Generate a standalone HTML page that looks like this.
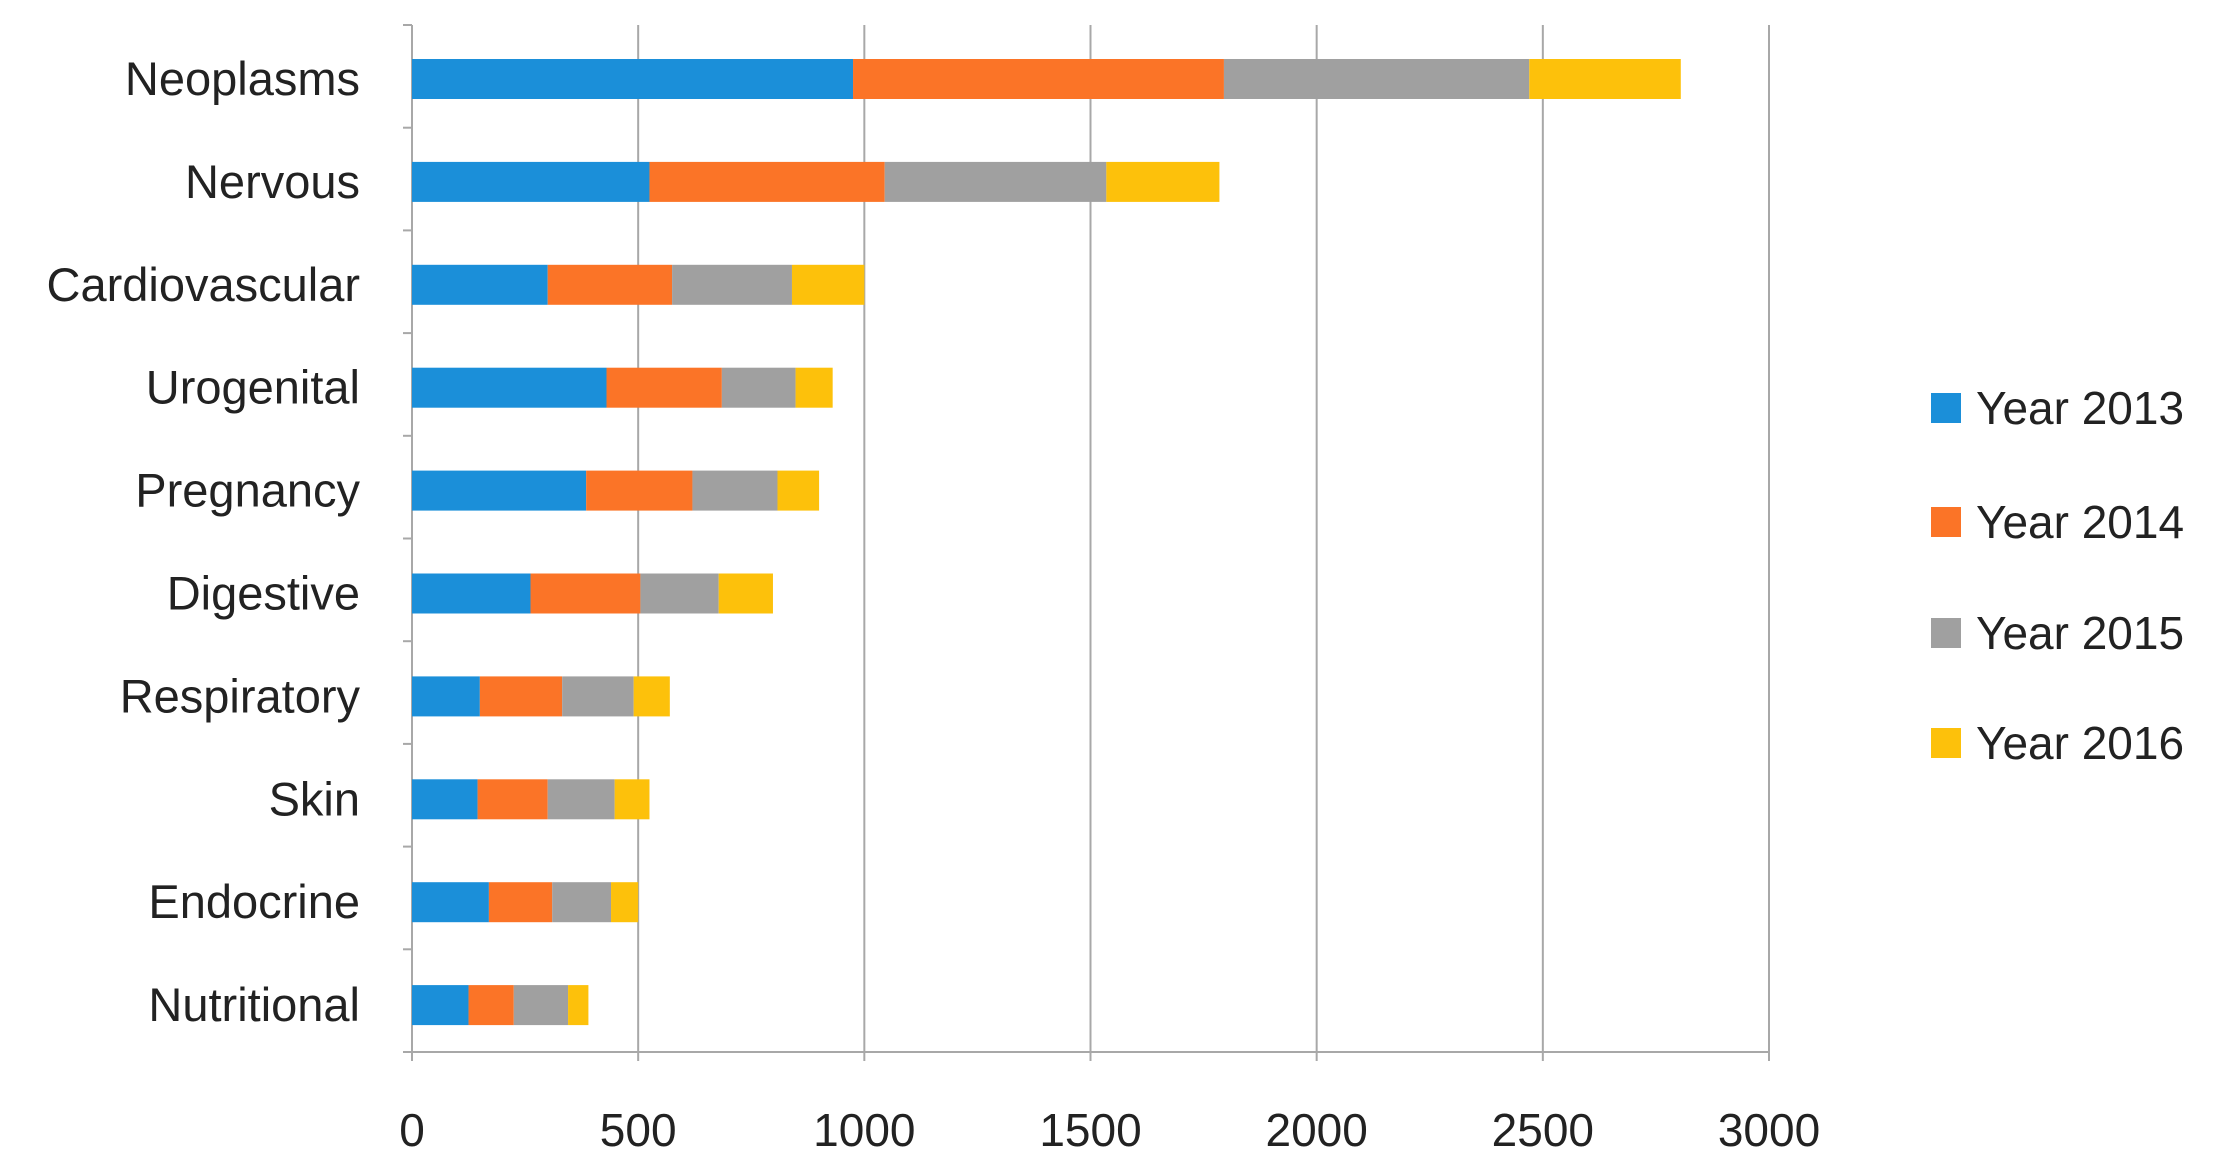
<!DOCTYPE html>
<html><head><meta charset="utf-8"><style>html,body{margin:0;padding:0;background:#fff}svg{display:block}</style></head>
<body>
<svg width="2214" height="1169" viewBox="0 0 2214 1169" xmlns="http://www.w3.org/2000/svg" font-family="Liberation Sans, sans-serif" fill="#222">
<g id="grid" stroke="#a8a8a8" stroke-width="2"></g>
<g id="bars"></g>
<g id="labels" font-size="47" text-anchor="end"></g>
<g id="ticks" font-size="46" text-anchor="middle"></g>
<g font-size="46">
<rect x="1931" y="393" width="30" height="30" fill="#1b8fd9"/><text x="1976" y="424">Year 2013</text>
<rect x="1931" y="507" width="30" height="30" fill="#fb7427"/><text x="1976" y="538">Year 2014</text>
<rect x="1931" y="618" width="30" height="30" fill="#a0a0a0"/><text x="1976" y="649">Year 2015</text>
<rect x="1931" y="728" width="30" height="30" fill="#fdc10b"/><text x="1976" y="759">Year 2016</text>
</g>
<script>
(function(){
var ns="http://www.w3.org/2000/svg";
function el(p,t,a,txt){var e=document.createElementNS(ns,t);for(var k in a)e.setAttribute(k,a[k]);if(txt)e.textContent=txt;document.getElementById(p).appendChild(e);}
var x0=412,sc=(1769-412)/3000,ptop=25,bot=1052;
for(var v=500;v<=3000;v+=500){var x=x0+v*sc;el("grid","line",{x1:x,y1:ptop,x2:x,y2:bot});}
el("grid","line",{x1:x0,y1:ptop,x2:x0,y2:bot});
el("grid","line",{x1:x0,y1:bot,x2:1769,y2:bot});
for(var i=0;i<=10;i++){var y=ptop+i*102.7;el("grid","line",{x1:x0-9,y1:y,x2:x0,y2:y});}
for(var v=0;v<=3000;v+=500){var x=x0+v*sc;el("grid","line",{x1:x,y1:bot,x2:x,y2:bot+9});el("ticks","text",{x:x,y:1146},String(v));}
var d=[["Neoplasms",975,1795,2470,2805],["Nervous",525,1045,1535,1785],["Cardiovascular",300,575,840,1000],["Urogenital",430,685,848,930],["Pregnancy",385,620,808,900],["Digestive",262,505,678,798],["Respiratory",150,332,490,570],["Skin",145,300,448,525],["Endocrine",170,310,440,500],["Nutritional",125,225,345,390]];
var c=["#1b8fd9","#fb7427","#a0a0a0","#fdc10b"];
d.forEach(function(r,i){var cy=79+i*102.9;var p=0;for(var j=0;j<4;j++){el("bars","rect",{x:x0+p*sc,y:cy-20,width:(r[j+1]-p)*sc,height:40,fill:c[j]});p=r[j+1];}
el("labels","text",{x:360,y:cy+16},r[0]);});
})();
</script>
</svg>
</body></html>
